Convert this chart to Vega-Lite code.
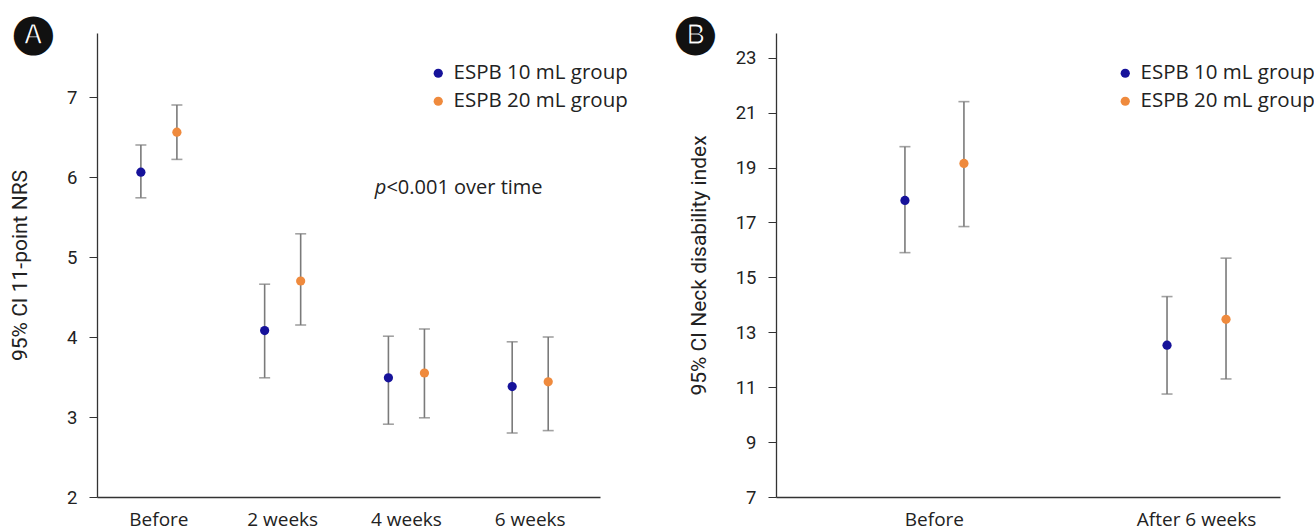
{
  "$schema": "https://vega.github.io/schema/vega-lite/v6.json",
  "background": "white",
  "padding": {"left": 9, "top": 14, "right": 0, "bottom": 0},
  "spacing": 48,
  "config": {
    "view": {"stroke": null},
    "font": "Open Sans",
    "axis": {
      "domainColor": "#333333",
      "domainWidth": 1.3,
      "tickColor": "#333333",
      "labelColor": "#222222",
      "titleColor": "#222222",
      "grid": false
    },
    "axisY": {"labelFont": "Roboto", "titleFont": "Roboto", "labelFontSize": 18.5, "titleFontSize": 21, "titleFontWeight": "normal", "tickSize": 8, "labelPadding": 12, "format": "d"},
    "axisX": {"labelFont": "Open Sans", "labelFontSize": 19, "labelPadding": 13, "ticks": false, "labelAngle": 0},
    "title": {"font": "DejaVu Sans"}
  },
  "resolve": {"legend": {"color": "independent"}, "scale": {"xOffset": "independent", "x": "independent", "y": "independent", "color": "independent"}},
  "datasets": {
    "nrs": [
      {"time": "Before", "group": "ESPB 10 mL group", "mean": 6.06, "lower": 5.74, "upper": 6.4},
      {"time": "Before", "group": "ESPB 20 mL group", "mean": 6.56, "lower": 6.22, "upper": 6.9},
      {"time": "2 weeks", "group": "ESPB 10 mL group", "mean": 4.08, "lower": 3.49, "upper": 4.66},
      {"time": "2 weeks", "group": "ESPB 20 mL group", "mean": 4.7, "lower": 4.15, "upper": 5.29},
      {"time": "4 weeks", "group": "ESPB 10 mL group", "mean": 3.49, "lower": 2.91, "upper": 4.01},
      {"time": "4 weeks", "group": "ESPB 20 mL group", "mean": 3.55, "lower": 2.99, "upper": 4.1},
      {"time": "6 weeks", "group": "ESPB 10 mL group", "mean": 3.38, "lower": 2.8, "upper": 3.94},
      {"time": "6 weeks", "group": "ESPB 20 mL group", "mean": 3.44, "lower": 2.83, "upper": 4.0}
    ],
    "ndi": [
      {"time": "Before", "group": "ESPB 10 mL group", "mean": 17.8, "lower": 15.9, "upper": 19.76},
      {"time": "Before", "group": "ESPB 20 mL group", "mean": 19.15, "lower": 16.85, "upper": 21.4},
      {"time": "After 6 weeks", "group": "ESPB 10 mL group", "mean": 12.53, "lower": 10.75, "upper": 14.3},
      {"time": "After 6 weeks", "group": "ESPB 20 mL group", "mean": 13.47, "lower": 11.3, "upper": 15.7}
    ],
    "noteA": [
      {"time": "4 weeks", "y": 5.86, "p": "p", "rest": "<0.001 over time"}
    ]
  },
  "hconcat": [
    {
      "width": 503,
      "height": 464,
      "title": {"text": "🅐", "anchor": "start", "frame": "bounds", "fontSize": 38, "offset": -19, "dx": 4, "color": "#111111"},
      "encoding": {
        "x": {
          "field": "time", "type": "nominal", "title": null,
          "sort": ["Before", "2 weeks", "4 weeks", "6 weeks"],
          "scale": {"paddingInner": 0, "paddingOuter": 0.032, "align": 0}
        }
      },
      "layer": [
        {
          "data": {"name": "nrs"},
          "mark": {"type": "rule", "color": "#7a7a7a", "strokeWidth": 1.6},
          "encoding": {
            "xOffset": {"field": "group", "type": "nominal", "scale": {"paddingInner": 0, "paddingOuter": 0.718}},
            "y": {"field": "lower", "type": "quantitative", "title": "95% CI 11-point NRS",
              "scale": {"domain": [2, 7.8], "nice": false, "zero": false},
              "axis": {"values": [2, 3, 4, 5, 6, 7], "titlePadding": 36}},
            "y2": {"field": "upper"}
          }
        },
        {
          "data": {"name": "nrs"},
          "mark": {"type": "tick", "color": "#7a7a7a", "size": 11, "thickness": 1.6},
          "encoding": {
            "xOffset": {"field": "group", "type": "nominal"},
            "y": {"field": "lower", "type": "quantitative", "title": "95% CI 11-point NRS"}
          }
        },
        {
          "data": {"name": "nrs"},
          "mark": {"type": "tick", "color": "#7a7a7a", "size": 11, "thickness": 1.6},
          "encoding": {
            "xOffset": {"field": "group", "type": "nominal"},
            "y": {"field": "upper", "type": "quantitative", "title": "95% CI 11-point NRS"}
          }
        },
        {
          "data": {"name": "nrs"},
          "mark": {"type": "point", "filled": true, "size": 85, "opacity": 1},
          "encoding": {
            "xOffset": {"field": "group", "type": "nominal"},
            "y": {"field": "mean", "type": "quantitative", "title": "95% CI 11-point NRS"},
            "color": {
              "field": "group", "type": "nominal",
              "scale": {"domain": ["ESPB 10 mL group", "ESPB 20 mL group"], "range": ["#16129a", "#ef8a3d"]},
              "legend": {"title": null, "orient": "none", "legendX": 331, "legendY": 30, "labelFontSize": 20.5, "labelFont": "Open Sans", "labelColor": "#222222", "labelLimit": 0, "symbolType": "circle", "symbolSize": 85, "rowPadding": 7, "labelOffset": 5}
            }
          }
        },
        {
          "data": {"name": "noteA"},
          "mark": {"type": "text", "align": "right", "baseline": "middle", "fontSize": 20, "fontStyle": "italic", "font": "Open Sans", "color": "#222222", "dx": -20},
          "encoding": {
            "y": {"field": "y", "type": "quantitative", "title": "95% CI 11-point NRS"},
            "text": {"field": "p"}
          }
        },
        {
          "data": {"name": "noteA"},
          "mark": {"type": "text", "align": "left", "baseline": "middle", "fontSize": 20, "font": "Open Sans", "color": "#222222", "dx": -20},
          "encoding": {
            "y": {"field": "y", "type": "quantitative", "title": "95% CI 11-point NRS"},
            "text": {"field": "rest"}
          }
        }
      ]
    },
    {
      "width": 504,
      "height": 464,
      "data": {"name": "ndi"},
      "title": {"text": "🅑", "anchor": "start", "frame": "bounds", "fontSize": 38, "offset": -19, "dx": -12, "color": "#111111"},
      "encoding": {
        "x": {
          "field": "time", "type": "nominal", "title": null,
          "sort": ["Before", "After 6 weeks"],
          "scale": {"paddingInner": 0.363, "paddingOuter": 0.143, "align": 1}
        }
      },
      "layer": [
        {
          "mark": {"type": "rule", "color": "#7a7a7a", "strokeWidth": 1.6},
          "encoding": {
            "xOffset": {"field": "group", "type": "nominal", "scale": {"paddingInner": 0, "paddingOuter": 0.415}},
            "y": {"field": "lower", "type": "quantitative", "title": "95% CI Neck disability index",
              "scale": {"domain": [7, 23.9], "nice": false, "zero": false},
              "axis": {"values": [7, 9, 11, 13, 15, 17, 19, 21, 23], "titlePadding": 26}},
            "y2": {"field": "upper"}
          }
        },
        {
          "mark": {"type": "tick", "color": "#7a7a7a", "size": 11, "thickness": 1.6},
          "encoding": {
            "xOffset": {"field": "group", "type": "nominal"},
            "y": {"field": "lower", "type": "quantitative", "title": "95% CI Neck disability index"}
          }
        },
        {
          "mark": {"type": "tick", "color": "#7a7a7a", "size": 11, "thickness": 1.6},
          "encoding": {
            "xOffset": {"field": "group", "type": "nominal"},
            "y": {"field": "upper", "type": "quantitative", "title": "95% CI Neck disability index"}
          }
        },
        {
          "mark": {"type": "point", "filled": true, "size": 85, "opacity": 1},
          "encoding": {
            "xOffset": {"field": "group", "type": "nominal"},
            "y": {"field": "mean", "type": "quantitative", "title": "95% CI Neck disability index"},
            "color": {
              "field": "group", "type": "nominal",
              "scale": {"domain": ["ESPB 10 mL group", "ESPB 20 mL group"], "range": ["#16129a", "#ef8a3d"]},
              "legend": {"title": null, "orient": "none", "legendX": 339, "legendY": 30, "labelFontSize": 20.5, "labelFont": "Open Sans", "labelColor": "#222222", "labelLimit": 0, "symbolType": "circle", "symbolSize": 85, "rowPadding": 7, "labelOffset": 5}
            }
          }
        }
      ]
    }
  ]
}
